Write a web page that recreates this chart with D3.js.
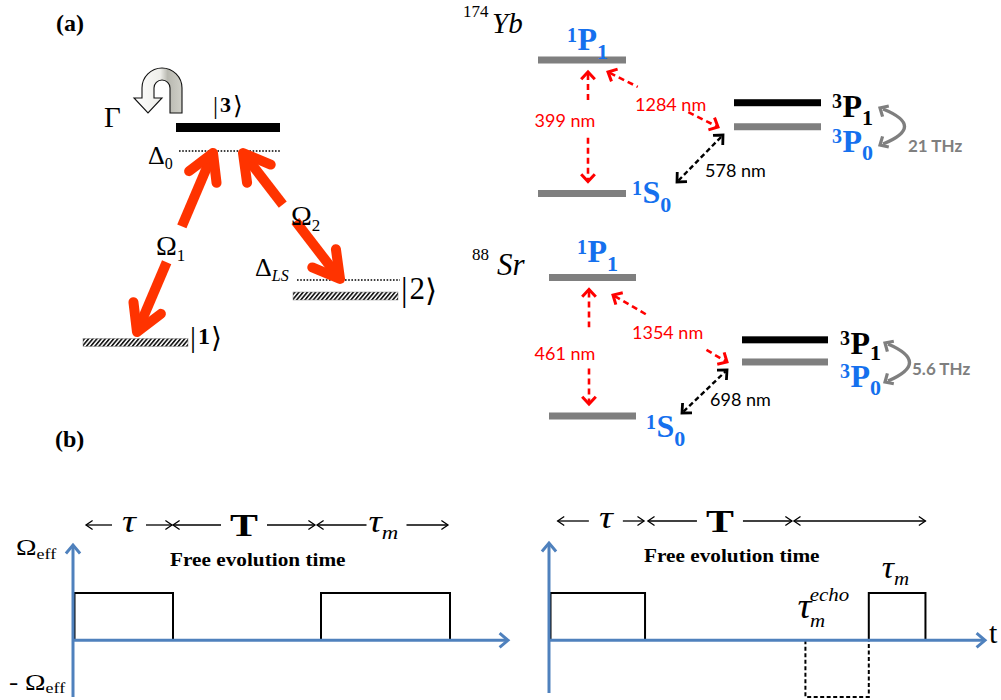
<!DOCTYPE html>
<html><head><meta charset="utf-8">
<script src="https://cdn.jsdelivr.net/npm/d3@7"></script>
<style>body{margin:0;background:#fff}svg{display:block}</style>
</head><body><svg id="c" width="1001" height="700"></svg>
<script>
// ---------------- data ----------------
const stateLabels = ["1", "2", "3"];
const couplingSubs = ["1", "2"];
const atomNames = ["Yb", "Sr"];
const atomMass = ["174", "88"];
const termNames = ["1S0", "1P1", "3P1", "3P0"];
const energyYb = [0, 1, 0.68, 0.50];   // schematic (not to scale)
const energySr = [0, 1, 0.55, 0.39];
const strongLine = ["399 nm", "461 nm"];
const repumpLine = ["1284 nm", "1354 nm"];
const clockLine = ["578 nm", "698 nm"];
const fineSplit = ["21 THz", "5.6 THz"];
// panel (b): pulse sequences in units of tau
const seqRamsey = [{start: 0, end: 1, amp: 1}, {start: 2.48, end: 3.77, amp: 1}];
const seqEcho = [{start: 0, end: 1, amp: 1}, {start: 2.67, end: 3.33, amp: -1.2, dashed: true}, {start: 3.33, end: 3.92, amp: 1}];
const intervalsRamsey = [[0.13, 0.99], [1.0, 2.42], [2.44, 3.75]];
const intervalsEcho = [[0.09, 0.99], [1.03, 2.53], [2.55, 3.92]];
const intervalNames = ["τ", "T", "τm"];

// ---------------- helpers ----------------
const svg = d3.select("#c");
const SERIF = "'Liberation Serif','Times New Roman',serif";
const SANS = "Lato,'Open Sans',sans-serif";
const BLUE = "#1570EE", GRAY = "#7F7F7F", AXIS = "#4F81BD";

const defs = svg.append("defs");
const pat = defs.append("pattern").attr("id", "hatch").attr("patternUnits", "userSpaceOnUse")
  .attr("width", 3.2).attr("height", 3.2).attr("patternTransform", "rotate(40)");
pat.append("rect").attr("width", 3.2).attr("height", 3.2).attr("fill", "#fff");
pat.append("line").attr("x1", 0.8).attr("y1", 0).attr("x2", 0.8).attr("y2", 3.2).attr("stroke", "#1a1a1a").attr("stroke-width", 1.8);
const grad = defs.append("linearGradient").attr("id", "gbend").attr("x1", 0).attr("x2", 1).attr("y1", 0).attr("y2", 0);
grad.append("stop").attr("offset", "0%").attr("stop-color", "#ffffff");
grad.append("stop").attr("offset", "55%").attr("stop-color", "#eeeeea");
grad.append("stop").attr("offset", "70%").attr("stop-color", "#b8b8b0");
grad.append("stop").attr("offset", "100%").attr("stop-color", "#d0d0c8");

function chevron(g, tip, ang, len, spread, color, width, cap) {
  const a1 = ang + Math.PI - spread, a2 = ang + Math.PI + spread;
  g.append("path")
    .attr("d", `M${tip[0] + len * Math.cos(a1)},${tip[1] + len * Math.sin(a1)}L${tip[0]},${tip[1]}L${tip[0] + len * Math.cos(a2)},${tip[1] + len * Math.sin(a2)}`)
    .attr("fill", "none").attr("stroke", color).attr("stroke-width", width)
    .attr("stroke-linejoin", cap === "round" ? "round" : "miter").attr("stroke-linecap", cap || "butt");
}
function lerp(a, b, t) { return [a[0] + (b[0] - a[0]) * t, a[1] + (b[1] - a[1]) * t]; }
function dArrow(g, a, b, opt) {
  const ang = Math.atan2(b[1] - a[1], b[0] - a[0]);
  const L = Math.hypot(b[0] - a[0], b[1] - a[1]);
  const s = opt.inset / L;
  const segs = opt.gap ? [[s, opt.gap[0]], [opt.gap[1], 1 - s]] : [[s, 1 - s]];
  segs.forEach(([t0, t1]) => {
    const p0 = lerp(a, b, t0), p1 = lerp(a, b, t1);
    g.append("line").attr("x1", p0[0]).attr("y1", p0[1]).attr("x2", p1[0]).attr("y2", p1[1])
      .attr("stroke", opt.color).attr("stroke-width", opt.width)
      .attr("stroke-dasharray", opt.dash || null).attr("stroke-linecap", "butt");
  });
  chevron(g, b, ang, opt.head, opt.spread, opt.color, opt.hw || opt.width, opt.cap);
  chevron(g, a, ang + Math.PI, opt.head, opt.spread, opt.color, opt.hw || opt.width, opt.cap);
}
function rich(g, x, y, parts, base) {
  const t = g.append("text")
    .attr("font-family", base.family || SERIF).attr("fill", base.fill || "#000");
  if (base.sx) t.attr("x", 0).attr("y", 0).attr("transform", `translate(${x},${y}) scale(${base.sx},1)`);
  else t.attr("x", x).attr("y", y);
  parts.forEach(p => {
    t.append("tspan").text(p.t).attr("font-size", p.size)
      .attr("dy", p.dy || 0).attr("dx", p.dx || 0)
      .attr("font-style", p.italic ? "italic" : null)
      .attr("font-weight", p.bold ? "bold" : null)
      .attr("fill", p.fill || null)
      .attr("font-family", p.family || null);
  });
  return t;
}
function term(g, x, y, name, color, subDy) {
  return rich(g, x, y, [
    {t: name[0], size: 20, dy: -8.5},
    {t: name[1], size: 32, dy: 8.5, dx: 0.5},
    {t: name[2], size: 22, dy: subDy == null ? 8.5 : subDy}
  ], {fill: color, family: SERIF}).attr("font-weight", "bold");
}

// ---------------- panel (a) left: three-level scheme ----------------
const ga = svg.append("g");
rich(ga, 56, 31, [{t: "(a)", size: 24, bold: true}], {});

const lvl3 = 127.5, lvlD0 = 151, lvlLS = 280, lvl2 = 296, lvl1 = 342.5;
ga.append("rect").attr("x", 176).attr("y", lvl3 - 4.5).attr("width", 104).attr("height", 9).attr("fill", "#000");
ga.append("line").attr("x1", 179).attr("x2", 280).attr("y1", lvlD0).attr("y2", lvlD0)
  .attr("stroke", "#000").attr("stroke-width", 1.5).attr("stroke-dasharray", "1.6,1.6");
ga.append("line").attr("x1", 297).attr("x2", 400).attr("y1", lvlLS).attr("y2", lvlLS)
  .attr("stroke", "#000").attr("stroke-width", 1.5).attr("stroke-dasharray", "1.6,1.6");
ga.append("rect").attr("x", 293).attr("y", lvl2 - 4).attr("width", 105).attr("height", 8)
  .attr("fill", "url(#hatch)").attr("stroke", "#888").attr("stroke-width", 0.5);
ga.append("rect").attr("x", 83).attr("y", lvl1 - 4).attr("width", 105).attr("height", 8)
  .attr("fill", "url(#hatch)").attr("stroke", "#888").attr("stroke-width", 0.5);

// kets
rich(ga, 213, 114, [{t: "|", size: 25}, {t: stateLabels[2], size: 22, bold: true, dx: 2, dy: -2}, {t: "⟩", size: 25, dx: 2, dy: 2, family: "'DejaVu Serif',serif"}], {});
rich(ga, 190, 347, [{t: "|", size: 30}, {t: stateLabels[0], size: 24, bold: true, dx: 2, dy: -3}, {t: "⟩", size: 28, dx: 1, dy: 3, family: "'DejaVu Serif',serif"}], {});
rich(ga, 401, 301, [{t: "|", size: 33}, {t: stateLabels[1], size: 31, dx: 2, dy: -2}, {t: "⟩", size: 31, dx: 0, dy: 2, family: "'DejaVu Serif',serif"}], {});

// Gamma + bent arrow
rich(ga, 104, 127, [{t: "Γ", size: 29}], {});
ga.append("path")
  .attr("d", "M182,113 L182,88 A20,20 0 0 0 142,88 L142,98 L134,98 L148,113 L162,98 L154,98 L154,88 A8,8 0 0 1 170,88 L170,113 Z")
  .attr("fill", "url(#gbend)").attr("stroke", "#111").attr("stroke-width", 1.1).attr("stroke-linejoin", "miter");

// detunings
rich(ga, 148, 164, [{t: "Δ", size: 26}, {t: "0", size: 16, dy: 5}], {});
rich(ga, 255, 276, [{t: "Δ", size: 26}, {t: "LS", size: 16, dy: 5, italic: true}], {});

// Rabi arrows
const RED = "#FF3300";
dArrow(ga, [137, 332], [213, 153], {color: RED, width: 10, head: 30, spread: 0.52, inset: 5, gap: [0.39, 0.59], cap: "round"});
dArrow(ga, [340, 279], [243, 153], {color: RED, width: 10, head: 30, spread: 0.52, inset: 5, gap: [0.46, 0.59], cap: "round"});
rich(ga, 156, 255, [{t: "Ω", size: 28}, {t: couplingSubs[0], size: 17, dy: 6}], {});
rich(ga, 291, 225, [{t: "Ω", size: 28}, {t: couplingSubs[1], size: 17, dy: 6}], {});

// ---------------- panel (a) right: Yb and Sr level diagrams ----------------
const atomLayout = [
  {x0: 538, x1: 626, tx0: 734, tx1: 821, yLo: 193.5, yHi: 60,
   mass: [463, 17], name: [492, 33], nameSize: 29,
   p1Lab: [567, 50], s0Lab: [632, 203], tLab: 832, tSub: 8.5,
   strongX: 588, strongGap: [0.26, 0.6], strongLab: [565, 127],
   rep: [[608, 72], [718, 127]], repGap: [0.27, 0.73], repLab: [635, 111],
   clk: [[677, 182], [723, 135]], clkLab: [705, 177],
   curve: [880, 108, 145], freqLab: [908, 152]},
  {x0: 549, x1: 636, tx0: 742, tx1: 828, yLo: 416, yHi: 277.5,
   mass: [472, 260], name: [497, 275], nameSize: 31,
   p1Lab: [577, 262], s0Lab: [646, 437], tLab: 840, tSub: 6,
   strongX: 589, strongGap: [0.33, 0.69], strongLab: [565, 360],
   rep: [[613, 295], [727, 362]], repGap: [0.3, 0.82], repLab: [632, 339],
   clk: [[682, 413], [727, 370]], clkLab: [710, 406],
   curve: [885, 343, 382], freqLab: [912, 375]}
];
const energies = [energyYb, energySr];

atomLayout.forEach((L, i) => {
  const g = svg.append("g");
  const y = d3.scaleLinear().domain([0, 1]).range([L.yLo, L.yHi]);
  const E = energies[i];
  rich(g, L.mass[0], L.mass[1], [{t: atomMass[i], size: 17}], {});
  rich(g, L.name[0], L.name[1], [{t: atomNames[i], size: L.nameSize, italic: true}], {});
  const bars = [
    {x0: L.x0, x1: L.x1, e: E[0], c: GRAY},
    {x0: L.x0, x1: L.x1, e: E[1], c: GRAY},
    {x0: L.tx0, x1: L.tx1, e: E[2], c: "#000"},
    {x0: L.tx0, x1: L.tx1, e: E[3], c: GRAY}
  ];
  g.selectAll("rect.bar").data(bars).join("rect").attr("class", "bar")
    .attr("x", d => d.x0).attr("width", d => d.x1 - d.x0)
    .attr("y", d => y(d.e) - 3.5).attr("height", 7).attr("fill", d => d.c);
  term(g, L.p1Lab[0], L.p1Lab[1], termNames[1], BLUE);
  term(g, L.s0Lab[0], L.s0Lab[1], termNames[0], BLUE);
  term(g, L.tLab, y(E[2]) + 14, termNames[2], "#000", L.tSub);
  term(g, L.tLab, y(E[3]) + 25, termNames[3], BLUE);
  dArrow(g, [L.strongX, y(E[1]) + 12], [L.strongX, y(E[0]) - 12],
    {color: "#FF0000", width: 2.6, head: 10, spread: 0.75, inset: 2, dash: "6,4", gap: L.strongGap, hw: 3});
  rich(g, L.strongLab[0], L.strongLab[1], [{t: strongLine[i], size: 18}], {family: SANS, fill: "#FF0000"}).attr("text-anchor", "middle");
  dArrow(g, L.rep[0], L.rep[1], {color: "#FF0000", width: 2.6, head: 10, spread: 0.75, inset: 2, dash: "6,4", gap: L.repGap, hw: 3});
  rich(g, L.repLab[0], L.repLab[1], [{t: repumpLine[i], size: 18}], {family: SANS, fill: "#FF0000"});
  dArrow(g, L.clk[0], L.clk[1], {color: "#000", width: 2.4, head: 10, spread: 0.75, inset: 2, dash: "5,3", hw: 2.8});
  rich(g, L.clkLab[0], L.clkLab[1], [{t: clockLine[i], size: 18}], {family: SANS, fill: "#000"});
  const [cx, cy0, cy1] = L.curve;
  const ctrl = [cx + 46, (cy0 + cy1) / 2];
  g.append("path").attr("d", `M${cx + 3},${cy0 + 1}Q${ctrl[0]},${ctrl[1]} ${cx + 3},${cy1 - 1}`)
    .attr("fill", "none").attr("stroke", GRAY).attr("stroke-width", 3.4);
  chevron(g, [cx, cy0], Math.atan2(cy0 - ctrl[1], cx - ctrl[0]) + 0.15, 9, 0.75, GRAY, 3.2);
  chevron(g, [cx, cy1], Math.atan2(cy1 - ctrl[1], cx - ctrl[0]) - 0.15, 9, 0.75, GRAY, 3.2);
  rich(g, L.freqLab[0], L.freqLab[1], [{t: fineSplit[i], size: 17, bold: true}], {family: SANS, fill: GRAY});
});

// ---------------- panel (b) ----------------
const gb = svg.append("g");
rich(gb, 55, 447, [{t: "(b)", size: 24, bold: true}], {});

const yb = d3.scaleLinear().domain([-1.2, 1]).range([697, 593]);
const panels = [
  {x: d3.scaleLinear().domain([0, 4.35]).range([73, 508]), seq: seqRamsey, ints: intervalsRamsey,
   axisTop: 545, axisBot: 697, rowY: 525, labels: [0, 1, 2], free: [170, 566]},
  {x: d3.scaleLinear().domain([0, 4.54]).range([549, 985]), seq: seqEcho, ints: intervalsEcho,
   axisTop: 543, axisBot: 693, rowY: 521, labels: [0, 1], free: [644, 562]}
];
panels.forEach((P, k) => {
  const g = gb.append("g");
  const x0 = P.x.range()[0], x1 = P.x.range()[1];
  g.selectAll("path.pulse").data(P.seq).join("path").attr("class", "pulse")
    .attr("d", d => `M${P.x(d.start) + (d.start === 0 ? 1.5 : 0)},${yb(0)}V${yb(d.amp)}H${P.x(d.end)}V${yb(0)}`)
    .attr("fill", "none").attr("stroke", "#000").attr("stroke-width", 2)
    .attr("stroke-dasharray", d => d.dashed ? "4,2.5" : null);
  g.append("line").attr("x1", x0).attr("x2", x0).attr("y1", P.axisBot).attr("y2", P.axisTop + 1)
    .attr("stroke", AXIS).attr("stroke-width", 3);
  chevron(g, [x0, P.axisTop], -Math.PI / 2, 11, 0.7, AXIS, 3);
  g.append("line").attr("x1", x0).attr("x2", x1 - 1).attr("y1", yb(0)).attr("y2", yb(0))
    .attr("stroke", AXIS).attr("stroke-width", 3);
  chevron(g, [x1, yb(0)], 0, 11, 0.7, AXIS, 3);
  const hw = [17, 23, 20];
  P.ints.forEach((iv, j) => {
    const a = P.x(iv[0]), b = P.x(iv[1]);
    const c = (a + b) / 2 + (k === 0 && j === 2 ? 4 : 0) + (k === 1 && j === 0 ? 5 : 0);
    if (P.labels.includes(j)) {
      const h = hw[j];
      g.append("line").attr("x1", a).attr("x2", c - h).attr("y1", P.rowY).attr("y2", P.rowY).attr("stroke", "#000").attr("stroke-width", 1.3);
      g.append("line").attr("x1", c + h).attr("x2", b).attr("y1", P.rowY).attr("y2", P.rowY).attr("stroke", "#000").attr("stroke-width", 1.3);
      chevron(g, [a, P.rowY], Math.PI, 8, 0.6, "#000", 1.3);
      chevron(g, [b, P.rowY], 0, 8, 0.6, "#000", 1.3);
      const name = intervalNames[j];
      if (name === "T") {
        rich(g, c, P.rowY + 11, [{t: "T", size: 31, bold: true}], {sx: 1.35}).attr("text-anchor", "middle");
      } else if (name === "τ") {
        rich(g, c, P.rowY + 7, [{t: "τ", size: 31, italic: true}], {sx: 1.25}).attr("text-anchor", "middle");
      } else {
        rich(g, c - 18, P.rowY + 7, [{t: "τ", size: 31, italic: true}, {t: "m", size: 19, italic: true, dy: 7}], {sx: 1.2});
      }
    } else {
      g.append("line").attr("x1", a).attr("x2", b).attr("y1", P.rowY).attr("y2", P.rowY).attr("stroke", "#000").attr("stroke-width", 1.3);
      chevron(g, [a, P.rowY], Math.PI, 8, 0.6, "#000", 1.3);
      chevron(g, [b, P.rowY], 0, 8, 0.6, "#000", 1.3);
    }
  });
  rich(g, P.free[0], P.free[1], [{t: "Free evolution time", size: 18.5, bold: true}], {sx: 1.15});
});
rich(gb, 16, 555, [{t: "Ω", size: 23}, {t: "eff", size: 15, dy: 4}], {sx: 1.2});
rich(gb, 9, 690, [{t: "- Ω", size: 23}, {t: "eff", size: 15, dy: 3}], {sx: 1.2});
rich(gb, 989, 643, [{t: "t", size: 30}], {});
const PE = panels[1];
rich(gb, PE.x(2.67) - 8, 618, [{t: "τ", size: 35, italic: true}, {t: "m", size: 19, italic: true, dy: 9, dx: -1}, {t: "echo", size: 19, italic: true, dy: -26, dx: -14}], {sx: 1.1});
rich(gb, PE.x(3.33) + 13, 578, [{t: "τ", size: 31, italic: true}, {t: "m", size: 19, italic: true, dy: 7}], {sx: 1.1});
</script></body></html>
